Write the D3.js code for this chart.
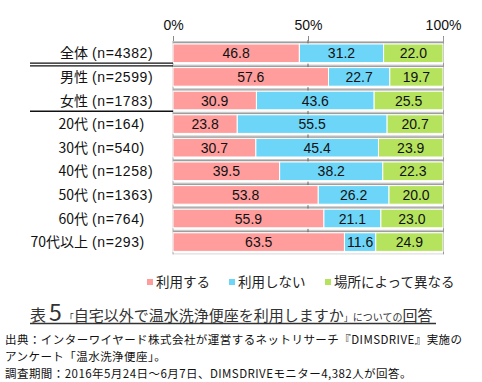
<!DOCTYPE html>
<html><head><meta charset="utf-8">
<script src="https://cdn.jsdelivr.net/npm/d3@7"></script>
<style>body{margin:0;background:#fff}svg{display:block}</style>
</head><body>
<svg id="c" width="482" height="382"></svg>
<script>
const categories = ["全体","男性","女性","20代","30代","40代","50代","60代","70代以上"];
const counts = ["4382","2599","1783","164","540","1258","1363","764","293"];
const useValues = [46.8,57.6,30.9,23.8,30.7,39.5,53.8,55.9,63.5];
const notUseValues = [31.2,22.7,43.6,55.5,45.4,38.2,26.2,21.1,11.6];
const dependsValues = [22.0,19.7,25.5,20.7,23.9,22.3,20.0,23.0,24.9];
const seriesNames = ["利用する","利用しない","場所によって異なる"];
const seriesColors = ["#ff9d9d","#6dd5f7","#b5e35e"];
const tickValues = [0,50,100];
const titleParts = ["表","5","「","自宅以外で温水洗浄便座を利用しますか","」","についての","回答"];
const footerLines = [
  "出典：インターワイヤード株式会社が運営するネットリサーチ『DIMSDRIVE』実施の",
  "アンケート「温水洗浄便座」。",
  "調査期間：2016年5月24日～6月7日、DIMSDRIVEモニター4,382人が回答。"
];

const svg = d3.select("#c");
const x = d3.scaleLinear().domain([0,100]).range([173,443]);
const y = d3.scaleBand().domain(categories).range([41, 41+23.6*9]).paddingInner(0);
const series = [useValues, notUseValues, dependsValues];
const jp = "'Noto Sans CJK JP','Noto Sans',sans-serif";
const lat = "'Liberation Sans',Arial,sans-serif";

// separators (gray bands) at top of each category
const g = svg.append("g");
categories.forEach(c => {
  const y0 = y(c);
  g.append("rect").attr("x", x(0)).attr("y", y0).attr("width", x(100)-x(0)).attr("height", 1).attr("fill", "#c8c8c8");
  g.append("rect").attr("x", x(0)).attr("y", y0+1).attr("width", x(100)-x(0)).attr("height", 1.5).attr("fill", "#9e9e9e");
  g.append("line").attr("x1", x(50)).attr("x2", x(50)).attr("y1", y0-1).attr("y2", y0+4.5).attr("stroke", "#666").attr("stroke-width", 1);
});
// bottom line
g.append("rect").attr("x", x(0)).attr("y", y.range()[1]).attr("width", x(100)-x(0)).attr("height", 1).attr("fill", "#d8d8d8");
// axis top ticks
const axis = d3.axisTop(x).tickValues(tickValues).tickSize(5).tickFormat(d => d + "%");
const ag = svg.append("g").attr("transform", `translate(0,${y.range()[0]})`).call(axis);
ag.select(".domain").remove();
ag.selectAll(".tick line").attr("stroke", "#888");
ag.selectAll(".tick text").attr("font-family", lat).attr("font-size", 14).attr("fill", "#111").attr("y", -11);
// left/right vertical lines
svg.append("line").attr("x1", x(0)).attr("x2", x(0)).attr("y1", y.range()[0]).attr("y2", y.range()[1]+1).attr("stroke", "#aaa");
svg.append("line").attr("x1", x(100)+0.5).attr("x2", x(100)+0.5).attr("y1", y.range()[0]-4).attr("y2", y.range()[1]+1).attr("stroke", "#999");

// bars
categories.forEach((c, i) => {
  let cum = 0;
  series.forEach((s, k) => {
    const v = s[i];
    const x0 = x(cum), x1 = x(cum + v);
    svg.append("rect").attr("x", x0).attr("y", y(c)+3).attr("width", x1-x0).attr("height", 18.6)
      .attr("fill", seriesColors[k]).attr("stroke", "#fff").attr("stroke-width", 1);
    svg.append("text").attr("x", (x0+x1)/2).attr("y", y(c)+3+9.3).attr("dy", "0.36em")
      .attr("text-anchor", "middle").attr("font-family", lat).attr("font-size", 14).attr("fill", "#111")
      .text(v.toFixed(1));
    cum += v;
  });
});

// left labels
categories.forEach((c, i) => {
  const cy = y(c) + 3 + 9.3;
  svg.append("text").attr("x", 88).attr("y", cy).attr("dy", "0.36em").attr("text-anchor", "end")
    .attr("font-family", jp).attr("font-size", 14).attr("fill", "#111").text(c);
  svg.append("text").attr("x", 92).attr("y", cy).attr("dy", "0.36em").attr("text-anchor", "start")
    .attr("font-family", lat).attr("font-size", 14).attr("letter-spacing", 0.6).attr("fill", "#111").text(`(n=${counts[i]})`);
});
// group separator lines
const sepY1 = y(categories[1]) + 0.5;
svg.append("line").attr("x1", 30).attr("x2", x(0)).attr("y1", sepY1-2).attr("y2", sepY1-2).attr("stroke", "#111").attr("stroke-width", 1.2);
svg.append("line").attr("x1", 30).attr("x2", x(0)).attr("y1", sepY1+0.8).attr("y2", sepY1+0.8).attr("stroke", "#111").attr("stroke-width", 1.2);
const sepY2 = y(categories[3]) - 0.5;
svg.append("line").attr("x1", 30).attr("x2", x(0)).attr("y1", sepY2).attr("y2", sepY2).attr("stroke", "#111").attr("stroke-width", 1.5);

// legend
const legX = [147, 229, 325];
seriesNames.forEach((n, k) => {
  svg.append("rect").attr("x", legX[k]).attr("y", 279).attr("width", 6).attr("height", 6).attr("fill", seriesColors[k]);
  svg.append("text").attr("x", legX[k]+9).attr("y", 282).attr("dy", "0.36em").attr("font-family", jp)
    .attr("font-size", 13.5).attr("fill", "#222").text(n);
});

// title
const t = svg.append("text").attr("x", 30).attr("y", 321).attr("font-family", jp).attr("fill", "#333");
const tSizes = [16, 23, 9, 15, 9, 10, 15];
titleParts.forEach((p, k) => {
  t.append("tspan").attr("font-size", tSizes[k]).attr("dx", k===1||k===2 ? 3 : 0).text(p);
});
svg.append("line").attr("x1", 30).attr("x2", 436).attr("y1", 323.5).attr("y2", 323.5).attr("stroke", "#333").attr("stroke-width", 1.3);

// footer
footerLines.forEach((l, k) => {
  svg.append("text").attr("x", 5).attr("y", 344 + k*16.8).attr("font-family", jp).attr("font-size", 11.5)
    .attr("letter-spacing", 0.45).attr("fill", "#111").text(l);
});
</script>
</body></html>
